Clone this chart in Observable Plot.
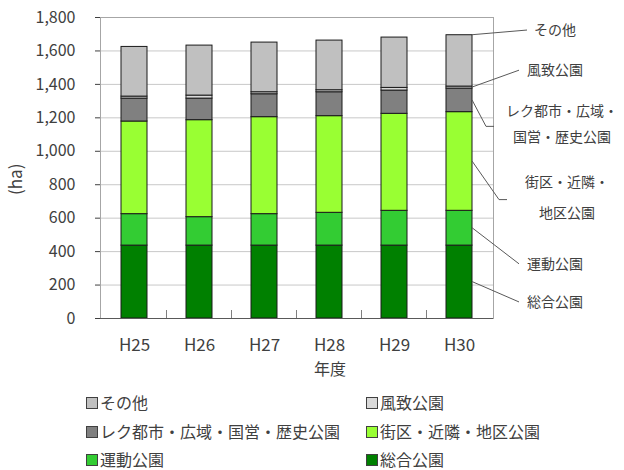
<!DOCTYPE html>
<html>
<head>
<meta charset="utf-8">
<script src="https://cdn.jsdelivr.net/npm/d3@7"></script>
<script src="https://cdn.jsdelivr.net/npm/@observablehq/plot@0.6"></script>
<style>
  body { margin: 0; background: white; font-family: 'Noto Sans CJK JP', 'Open Sans', sans-serif; color: #404040; }
  #wrap { position: relative; width: 624px; }
  #legend { position: relative; width: 624px; height: 81px; }
  .li { position: absolute; font-size: 16px; line-height: 20px; white-space: nowrap; color: #404040; }
  .sw { position: absolute; left: 0; top: 4px; width: 10px; height: 10px; border: 1px solid #404040; }
  .lt { position: absolute; left: 14px; top: -1px; }
</style>
</head>
<body>
<div id="wrap"><div id="chart"></div><div id="legend"></div></div>
<script>
// ---- data ----
const years = ["H25", "H26", "H27", "H28", "H29", "H30"];
const seriesNames = ["総合公園", "運動公園", "街区・近隣・地区公園", "レク都市・広域・国営・歴史公園", "風致公園", "その他"];
const sougou = [436, 436, 436, 436, 436, 436];
const undou  = [188, 170, 188, 196, 208, 208];
const gaiku  = [554, 580, 580, 578, 580, 590];
const reku   = [137, 129, 137, 143, 139, 141];
const fuuchi = [12, 18, 12, 12, 16, 12];
const sonota = [297, 299, 297, 297, 301, 307];
const yTicks = [0, 200, 400, 600, 800, 1000, 1200, 1400, 1600, 1800];
const colors = ["#008000", "#33CC33", "#99FF33", "#808080", "#D9D9D9", "#C0C0C0"];
const seriesValues = [sougou, undou, gaiku, reku, fuuchi, sonota];

const table = [];
seriesNames.forEach((s, i) => years.forEach((y, j) => table.push({year: y, series: s, value: seriesValues[i][j]})));

const plot = Plot.plot({
  width: 624,
  height: 389,
  marginLeft: 100,
  marginRight: 131,
  marginTop: 17,
  marginBottom: 71,
  style: {fontFamily: "'Noto Sans CJK JP', 'Open Sans', sans-serif", fontSize: "16px", color: "#404040", background: "white"},
  x: {domain: years, paddingInner: 0.6, paddingOuter: 0.3, align: 0.5, tickSize: 0, tickPadding: 20, label: null},
  y: {domain: [0, 1800], ticks: yTicks, tickFormat: d3.format(","), tickSize: 5, tickPadding: 20, label: null, line: true},
  color: {domain: seriesNames, range: colors},
  marks: [
    Plot.ruleY(yTicks.slice(1), {stroke: "#c8c8c8", strokeWidth: 1}),
    Plot.frame({stroke: "#a6a6a6"}),
    Plot.barY(table, {x: "year", y: "value", fill: "series", stroke: "#1a1a1a", strokeWidth: 1}),
    Plot.ruleY([0], {stroke: "#595959", strokeWidth: 1.2}),
    Plot.text(["年度"], {frameAnchor: "bottom", dx: 33, dy: 56, text: d => d, fontSize: 16, fill: "#404040"}),
    Plot.text(["(ha)"], {frameAnchor: "left", dx: -84, dy: 27, rotate: -90, text: d => d, fontSize: 17, fill: "#404040"})
  ]
});
document.getElementById("chart").appendChild(plot);

const svg = d3.select(plot.tagName.toLowerCase() === "svg" ? plot : plot.querySelector("svg"));
// slightly larger category labels
svg.selectAll('g[aria-label^="x-axis"] text').attr("font-size", 17).style("font-size", "17px");

// ---- annotations (leader lines) via Plot's scales ----
const xs = plot.scale("x"), ys = plot.scale("y");
const bw = xs.bandwidth, step = xs.step;
// boundary ticks between categories
const g0 = svg.append("g");
years.slice(0, -1).forEach(y => {
  const bx = xs.apply(y) + bw / 2 + step / 2;
  g0.append("line").attr("x1", bx).attr("x2", bx)
    .attr("y1", ys.apply(0)).attr("y2", ys.apply(0) - 8)
    .attr("stroke", "#808080").attr("stroke-width", 1);
});

const last = years.length - 1;
const barRight = xs.apply(years[last]) + bw;
const cum = [];
let acc = 0;
seriesValues.forEach(v => { cum.push([acc, acc + v[last]]); acc += v[last]; });

const annots = [
  {i: 5, at: "top", pts: [[55, 1722]], lines: [["その他", 62, 1722]], anchor: "start"},
  {i: 4, at: "mid", pts: [[47, 1482]], lines: [["風致公園", 55, 1482]], anchor: "start"},
  {i: 3, at: "mid", pts: [[14, 1146], [22, 1146]], lines: [["レク都市・広域・", 90, 1236], ["国営・歴史公園", 90, 1080]], anchor: "middle"},
  {i: 2, at: "mid", pts: [[27, 708], [35, 708]], lines: [["街区・近隣・", 95, 810], ["地区公園", 95, 630]], anchor: "middle"},
  {i: 1, at: "mid", pts: [[47, 324]], lines: [["運動公園", 55, 324]], anchor: "start"},
  {i: 0, at: "mid", pts: [[47, 96]], lines: [["総合公園", 55, 96]], anchor: "start"}
];
const ga = svg.append("g");
annots.forEach(a => {
  const [lo, hi] = cum[a.i];
  const v0 = a.at === "top" ? hi : (lo + hi) / 2;
  const pts = [[barRight, ys.apply(v0)]].concat(a.pts.map(([dx, v]) => [barRight + dx, ys.apply(v)]));
  ga.append("path").attr("d", d3.line()(pts)).attr("fill", "none").attr("stroke", "#595959").attr("stroke-width", 1);
  a.lines.forEach(([t, dx, v]) => {
    ga.append("text").attr("x", barRight + dx).attr("y", ys.apply(v)).attr("dy", "0.35em")
      .attr("text-anchor", a.anchor).attr("font-size", 14).attr("fill", "#404040").text(t);
  });
});

// ---- legend ----
const legendOrder = [5, 4, 3, 2, 1, 0];
const legend = document.getElementById("legend");
legendOrder.forEach((si, k) => {
  const col = k % 2, row = Math.floor(k / 2);
  const d = document.createElement("div");
  d.className = "li";
  d.style.left = (col === 0 ? 86 : 366) + "px";
  d.style.top = (14 + row * 28.5 - 10) + "px";
  const sw = document.createElement("div");
  sw.className = "sw";
  sw.style.background = colors[si];
  const t = document.createElement("span");
  t.className = "lt";
  t.textContent = seriesNames[si];
  d.appendChild(sw); d.appendChild(t);
  legend.appendChild(d);
});
</script>
</body>
</html>
